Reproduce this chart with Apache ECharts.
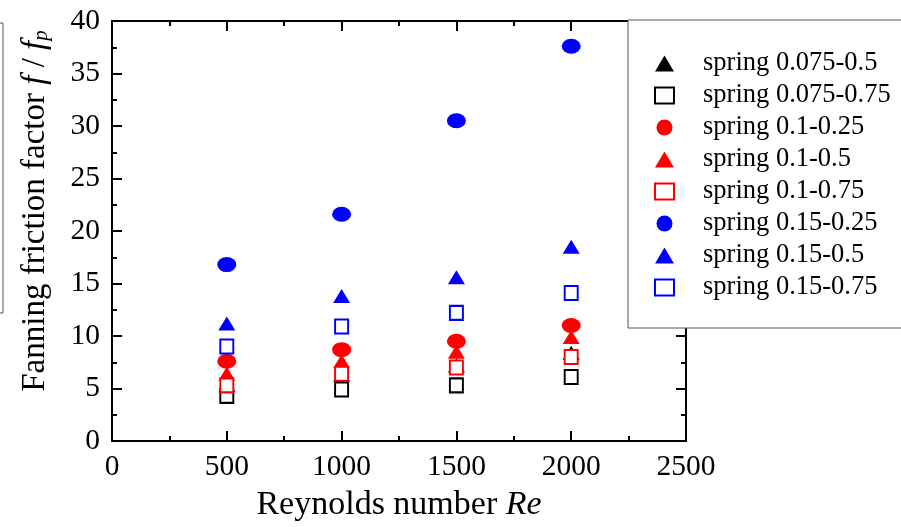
<!DOCTYPE html>
<html>
<head>
<meta charset="UTF-8">
<script src="https://cdn.jsdelivr.net/npm/echarts@6/dist/echarts.min.js"></script>
</head>
<body style="margin:0;background:#fff;">
<div id="chart" style="width:901px;height:527px;"></div>
<script type="text/javascript">
// Reynolds numbers (x) and friction factor ratios
var reValues = [500, 1000, 1500, 2000];
var seriesNames = ['spring 0.075-0.5', 'spring 0.075-0.75', 'spring 0.1-0.25', 'spring 0.1-0.5',
                   'spring 0.1-0.75', 'spring 0.15-0.25', 'spring 0.15-0.5', 'spring 0.15-0.75'];
var s075_05  = [5.3, 6.3, 7.2, 8.4];
var s075_075 = [4.3, 4.9, 5.3, 6.1];
var s01_025  = [7.6, 8.7, 9.5, 11.0];
var s01_05   = [6.4, 7.6, 8.5, 9.9];
var s01_075  = [5.3, 6.4, 7.0, 8.0];
var s015_025 = [16.8, 21.6, 30.5, 37.6];
var s015_05  = [11.2, 13.8, 15.6, 18.5];
var s015_075 = [9.0, 10.9, 12.2, 14.1];

var font = 'Liberation Serif';
var chart = echarts.init(document.getElementById('chart'));

function pts(vals) {
    var out = [];
    for (var i = 0; i < reValues.length; i++) out.push([reValues[i], vals[i]]);
    return out;
}

// marker styles: triangle, open square, ellipse
var styles = {
    tri:  { symbol: 'triangle', size: [17, 14] },
    sq:   { symbol: 'emptyRect', size: [13, 14] },
    circ: { symbol: 'circle', size: [19, 15] }
};

function mk(name, vals, kind, color) {
    return {
        name: name,
        type: 'scatter',
        xAxisIndex: 0,
        yAxisIndex: 0,
        data: pts(vals),
        symbol: styles[kind].symbol,
        symbolSize: styles[kind].size,
        itemStyle: { color: color, opacity: 1 },
        emphasis: { disabled: true }
    };
}

var axisCommon = {
    axisLine: { show: true, onZero: false, lineStyle: { color: '#000', width: 2 } },
    axisTick: { show: true, inside: true, length: 10, lineStyle: { color: '#000', width: 2 } },
    minorTick: { show: true, splitNumber: 2, length: 5, lineStyle: { color: '#000', width: 2 } },
    splitLine: { show: false }
};

function axis(extra) {
    var a = JSON.parse(JSON.stringify(axisCommon));
    for (var k in extra) a[k] = extra[k];
    return a;
}

option = {
    animation: false,
    backgroundColor: '#fff',
    grid: { left: 112, right: 215, top: 21, bottom: 83 },
    legend: {
        orient: 'vertical',
        left: 628,
        top: 20,
        padding: [30, 30, 27, 26],
        backgroundColor: '#fff',
        borderColor: '#555',
        borderWidth: 1,
        itemWidth: 19,
        itemHeight: 16,
        itemGap: 5,
        selectedMode: false,
        textStyle: { fontFamily: font, fontSize: 26.5, color: '#000', lineHeight: 26, padding: [0, 0, 0, 24] },
        data: seriesNames
    },
    xAxis: [
        axis({
            type: 'value', position: 'bottom', min: 0, max: 2500, interval: 500,
            axisLabel: { fontFamily: font, fontSize: 29.5, color: '#000', margin: 11,
                formatter: function (v) { return String(v); } },
            name: 'Reynolds number {i|Re}',
            nameLocation: 'middle',
            nameGap: 47,
            nameTextStyle: { fontFamily: font, fontSize: 34, color: '#000',
                rich: { i: { fontFamily: font, fontSize: 34, fontStyle: 'italic', color: '#000' } } }
        }),
        axis({
            type: 'value', position: 'top', min: 0, max: 2500, interval: 500,
            axisLabel: { show: false }
        })
    ],
    yAxis: [
        axis({
            type: 'value', position: 'left', min: 0, max: 40, interval: 5,
            axisLabel: { fontFamily: font, fontSize: 29.5, color: '#000', margin: 12 },
            name: '{n|Fanning friction factor }{i|f}{n| / }{i|f}{s|p}',
            nameLocation: 'middle',
            nameGap: 60,
            nameTextStyle: {
                fontFamily: font, fontSize: 33, color: '#000', padding: [0, 0, 0, 40],
                rich: {
                    n: { fontFamily: font, fontSize: 33, color: '#000' },
                    i: { fontFamily: font, fontSize: 33, fontStyle: 'italic', color: '#000' },
                    s: { fontFamily: font, fontSize: 21, fontStyle: 'italic', color: '#000', padding: [13, 0, 0, 0] }
                }
            }
        }),
        axis({
            type: 'value', position: 'right', min: 0, max: 40, interval: 5,
            axisLabel: { show: false }
        })
    ],
    // remnant of a neighbouring frame at the left border
    graphic: [{
        type: 'rect',
        shape: { x: -10, y: 23, width: 13, height: 290 },
        style: { fill: 'none', stroke: '#555', lineWidth: 1 }
    }],
    series: [
        mk(seriesNames[0], s075_05, 'tri', '#000000'),
        mk(seriesNames[1], s075_075, 'sq', '#000000'),
        mk(seriesNames[2], s01_025, 'circ', '#ff0000'),
        mk(seriesNames[3], s01_05, 'tri', '#ff0000'),
        mk(seriesNames[4], s01_075, 'sq', '#ff0000'),
        mk(seriesNames[5], s015_025, 'circ', '#0000ff'),
        mk(seriesNames[6], s015_05, 'tri', '#0000ff'),
        mk(seriesNames[7], s015_075, 'sq', '#0000ff')
    ]
};

chart.setOption(option);
</script>
</body>
</html>
